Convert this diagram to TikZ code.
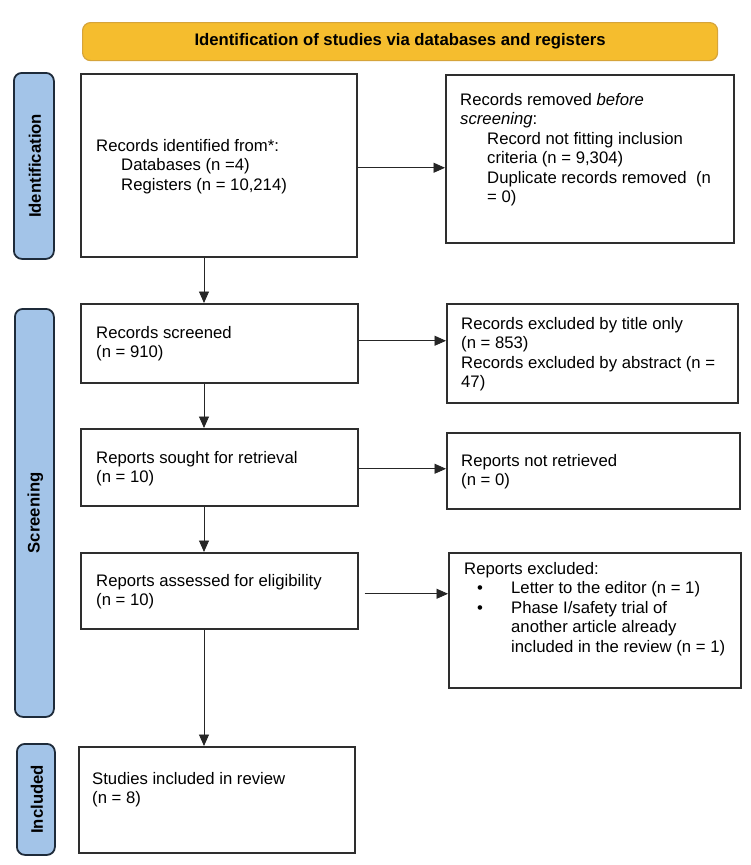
\documentclass[tikz,border=0pt]{standalone}
\usepackage{fontspec}
\setmainfont{Liberation Sans}
\usetikzlibrary{arrows.meta}
\definecolor{bannerfill}{HTML}{F5BD2E}
\definecolor{bannerdraw}{HTML}{D6A43A}
\definecolor{sidefill}{HTML}{A3C4E8}
\definecolor{sidedraw}{HTML}{1E2B3A}
\definecolor{boxdraw}{HTML}{2E2E2E}
\begin{document}
\begin{tikzpicture}[x=1pt,y=-1pt,
  box/.style={draw=boxdraw, line width=1.5pt, fill=white, inner sep=0pt, anchor=north west},
  side/.style={draw=sidedraw, line width=1.8pt, fill=sidefill, rounded corners=8pt, inner sep=0pt, anchor=north west},
  sidetxt/.style={rotate=90, font=\fontsize{16.7}{19.5}\selectfont\bfseries, inner sep=0pt},
  txt/.style={font=\fontsize{16.7}{19.5}\selectfont, inner sep=0pt, anchor=base west},
  arr/.style={-{Triangle[length=11.5pt,width=10pt]}, line width=0.9pt, draw=black!85},
]
\useasboundingbox (0,0) rectangle (750,865);
\fill[white] (0,0) rectangle (750,865);

% banner
\node[anchor=north west, minimum width=635pt, minimum height=38pt, inner sep=0pt,
  rounded corners=8pt, fill=bannerfill, draw=bannerdraw, line width=1.2pt,
  font=\fontsize{16.7}{19.5}\selectfont\bfseries] (banner) at (82,22)
  {Identification of studies via databases and registers};

% side bars
\node[side, minimum width=40pt, minimum height=186pt] (side1) at (13,72) {};
\node[side, minimum width=39pt, minimum height=408pt] (side2) at (14,308) {};
\node[side, minimum width=38pt, minimum height=111pt] (side3) at (16,743) {};
\node[sidetxt] (side1t) at ([xshift=1pt]side1.center) {Identification};
\node[sidetxt] (side2t) at ([xshift=1pt]side2.center) {Screening};
\node[sidetxt] (side3t) at ([xshift=1pt]side3.center) {Included};

% boxes
\node[box, minimum width=276pt, minimum height=183pt] (id) at (80,73) {};
\node[box, minimum width=288pt, minimum height=168pt] (rem) at (445,74) {};
\node[box, minimum width=277pt, minimum height=79pt] (scr) at (80,303) {};
\node[box, minimum width=291pt, minimum height=99pt] (exc) at (446,303) {};
\node[box, minimum width=277pt, minimum height=77pt] (sou) at (80,428) {};
\node[box, minimum width=293pt, minimum height=76pt] (nrt) at (446,432) {};
\node[box, minimum width=277pt, minimum height=76pt] (ass) at (80,552) {};
\node[box, minimum width=292pt, minimum height=135pt] (rex) at (448,552) {};
\node[box, minimum width=276pt, minimum height=106pt] (inc) at (78,746) {};

% texts
\node[txt] (idt) at (96,151) {\begin{tabular}[t]{@{}l@{}}Records identified from*:\\
  \hspace{25pt}Databases (n =4)\\
  \hspace{25pt}Registers (n = 10,214)\end{tabular}};
\node[txt] (remt) at (460,105) {\begin{tabular}[t]{@{}l@{}}Records removed \textit{before}\\
  \textit{screening}:\\
  \hspace{27pt}Record not fitting inclusion\\
  \hspace{27pt}criteria (n = 9,304)\\
  \hspace{27pt}Duplicate records removed\ \ (n\\
  \hspace{27pt}= 0)\end{tabular}};
\node[txt] (scrt) at (96,338) {\begin{tabular}[t]{@{}l@{}}Records screened\\(n = 910)\end{tabular}};
\node[txt] (exct) at (461,329) {\begin{tabular}[t]{@{}l@{}}Records excluded by title only\\
  (n = 853)\\Records excluded by abstract (n =\\47)\end{tabular}};
\node[txt] (sout) at (96,463) {\begin{tabular}[t]{@{}l@{}}Reports sought for retrieval\\(n = 10)\end{tabular}};
\node[txt] (nrtt) at (461,466) {\begin{tabular}[t]{@{}l@{}}Reports not retrieved\\(n = 0)\end{tabular}};
\node[txt] (asst) at (96,586) {\begin{tabular}[t]{@{}l@{}}Reports assessed for eligibility\\(n = 10)\end{tabular}};
\node[txt] (rext) at (464,574) {\begin{tabular}[t]{@{}l@{}}Reports excluded:\\
  \makebox[47pt][l]{\hspace{13pt}•}Letter to the editor (n = 1)\\
  \makebox[47pt][l]{\hspace{13pt}•}Phase I/safety trial of\\
  \hspace{47pt}another article already\\
  \hspace{47pt}included in the review (n = 1)\end{tabular}};
\node[txt] (inct) at (92,784) {\begin{tabular}[t]{@{}l@{}}Studies included in review\\(n = 8)\end{tabular}};

% connectors
\coordinate (vx) at (204,0);
\draw[arr] (id.south -| vx) -- (scr.north -| vx);
\draw[arr] (scr.south -| vx) -- (sou.north -| vx);
\draw[arr] (sou.south -| vx) -- (ass.north -| vx);
\draw[arr] (ass.south -| vx) -- (inc.north -| vx);
\draw[arr] ([yshift=-2.5pt]id.east) -- ([yshift=-2.5pt]id.east -| rem.west);
\draw[arr] ([yshift=2.5pt]scr.east) -- ([yshift=2.5pt]scr.east -| exc.west);
\draw[arr] ([yshift=-1.5pt]sou.east) -- ([yshift=-1.5pt]sou.east -| nrt.west);
\draw[arr] ([xshift=6pt,yshift=-3pt]ass.east) -- ([yshift=-3pt]ass.east -| rex.west);
\end{tikzpicture}
\end{document}
